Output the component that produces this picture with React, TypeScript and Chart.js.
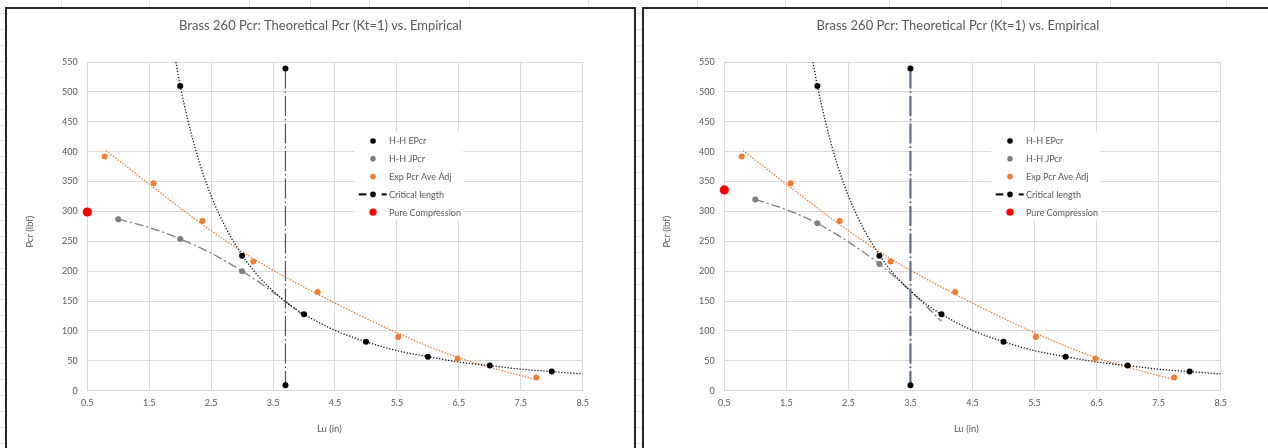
import React, { useEffect, useRef } from "react";
import { Chart, registerables } from "chart.js";

Chart.register(...registerables);

// ---------- data ----------
const TITLE = "Brass 260 Pcr: Theoretical Pcr (Kt=1) vs. Empirical";
const X_TITLE = "Lu (in)";
const Y_TITLE = "Pcr (lbf)";

const X_MIN = 0.5;
const X_MAX = 8.5;
const X_STEP = 1;
const Y_MIN = 0;
const Y_MAX = 550;
const Y_STEP = 50;

const EPCR_LU = [2, 3, 4, 5, 6, 7, 8];
const EPCR_P = [510, 226, 128, 82, 57, 42, 32];
const EPCR_TREND_LU = [1.93, 2, 2.25, 2.5, 2.75, 3, 3.25, 3.5, 3.75, 4, 4.5, 5, 5.5, 6, 6.5, 7, 7.5, 8, 8.5];
const EPCR_TREND_P = [550, 510, 403, 326, 270, 227, 193, 167, 145, 128, 101, 82, 67, 57, 48, 42, 36, 32, 28];

const JPCR_LU = [1, 2, 3];
const JPCR_P_LEFT = [287, 254, 200];
const JPCR_P_RIGHT = [320, 280, 212];
const JPCR_TREND_LU = [1, 1.5, 2, 2.5, 3, 3.5, 4];
const JPCR_TREND_LEFT = [287, 273, 254, 230, 200, 165, 125];
const JPCR_TREND_RIGHT = [320, 303, 280, 249, 212, 167, 116];

const EXP_LU = [0.78, 1.57, 2.36, 3.18, 4.22, 5.52, 6.48, 7.75];
const EXP_P = [392, 347, 284, 216, 165, 90, 54, 22];
const EXP_TREND_LU = [0.8, 1.57, 2.36, 3.18, 4.21, 5.52, 6.5, 7.72];
const EXP_TREND_P = [402, 340, 278, 221, 162, 96, 55, 19];

const CRIT_LU_LEFT = [3.7, 3.7];
const CRIT_LU_RIGHT = [3.5, 3.5];
const CRIT_P = [539, 9];

const PURE_LU = [0.5];
const PURE_P_LEFT = [299];
const PURE_P_RIGHT = [336];

const LABELS = ["H-H EPcr", "H-H JPcr", "Exp Pcr Ave Adj", "Critical length", "Pure Compression"];

// ---------- styles ----------
const FONT = "Lato, 'Open Sans', sans-serif";
const TEXT = "#595959";
const GRID = "#d9d9d9";
const BLACK = "#000000";
const GRAY = "#7f7f7f";
const ORANGE = "#ED7D31";
const RED = "#FF0000";

const pts = (xs: number[], ys: number[]) => xs.map((x, i) => ({ x, y: ys[i] }));

const textPlugin = {
  id: "excelText",
  afterDraw(chart: any) {
    const { ctx, chartArea, width } = chart;
    ctx.save();
    ctx.fillStyle = TEXT;
    ctx.textAlign = "center";
    ctx.textBaseline = "alphabetic";
    ctx.font = `13px ${FONT}`;
    ctx.fillText(TITLE, width / 2, 21);
    ctx.font = `9.5px ${FONT}`;
    ctx.textBaseline = "middle";
    ctx.fillText(X_TITLE, chartArea.left + 242, 419.7);
    ctx.translate(23, 222.7);
    ctx.rotate(-Math.PI / 2);
    ctx.fillText(Y_TITLE, 0, 0);
    ctx.restore();
  },
};

const legendPlugin = {
  id: "excelLegend",
  afterDatasetsDraw(chart: any) {
    const { ctx, chartArea } = chart;
    const items = [
      { label: LABELS[0], color: BLACK, r: 2.8, dash: false },
      { label: LABELS[1], color: GRAY, r: 2.8, dash: false },
      { label: LABELS[2], color: ORANGE, r: 2.8, dash: false },
      { label: LABELS[3], color: BLACK, r: 2.8, dash: true },
      { label: LABELS[4], color: RED, r: 3.6, dash: false },
    ];
    const bx = chartArea.left + 267;
    const by = chartArea.top + 70;
    ctx.save();
    ctx.fillStyle = "#ffffff";
    ctx.fillRect(bx, by, 109, 88);
    ctx.font = `9px ${FONT}`;
    ctx.textBaseline = "middle";
    ctx.textAlign = "left";
    items.forEach((it, i) => {
      const y = chartArea.top + 79 + i * 17.8;
      const mx = chartArea.left + 285.7;
      if (it.dash) {
        ctx.fillStyle = BLACK;
        ctx.fillRect(mx - 14.3, y - 1, 7.6, 2);
        ctx.fillRect(mx + 8.7, y - 1, 5, 2);
      }
      ctx.beginPath();
      ctx.arc(mx, y, it.r, 0, Math.PI * 2);
      ctx.fillStyle = it.color;
      ctx.fill();
      ctx.fillStyle = TEXT;
      ctx.fillText(it.label, chartArea.left + 301.7, y + 0.5);
    });
    ctx.restore();
  },
};

type Variant = {
  jp: number[];
  jpTrend: number[];
  critLu: number[];
  pure: number[];
  critColor: string;
  critWidth: number;
};

function makeConfig(v: Variant): any {
  const pointBase = { showLine: false, clip: false, order: 0, pointBorderWidth: 0 };
  const lineBase = {
    showLine: true,
    pointRadius: 0,
    pointHoverRadius: 0,
    cubicInterpolationMode: "monotone",
    order: 1,
    fill: false,
  };
  return {
    type: "scatter",
    data: {
      datasets: [
        { ...pointBase, label: LABELS[4], data: pts(PURE_LU, v.pure), pointRadius: 4.6, pointBackgroundColor: RED, backgroundColor: RED },
        { ...pointBase, label: LABELS[0], data: pts(EPCR_LU, EPCR_P), pointRadius: 3, pointBackgroundColor: BLACK, backgroundColor: BLACK },
        { ...pointBase, label: LABELS[1], data: pts(JPCR_LU, v.jp), pointRadius: 3, pointBackgroundColor: GRAY, backgroundColor: GRAY },
        { ...pointBase, label: LABELS[2], data: pts(EXP_LU, EXP_P), pointRadius: 3, pointBackgroundColor: ORANGE, backgroundColor: ORANGE },
        {
          label: LABELS[3],
          data: pts(v.critLu, CRIT_P),
          showLine: true,
          clip: false,
          order: 0,
          borderColor: v.critColor,
          borderWidth: v.critWidth,
          borderDash: [20, 3, 1.5, 3],
          pointRadius: 3,
          pointBorderWidth: 0,
          pointBackgroundColor: BLACK,
          backgroundColor: BLACK,
        },
        { ...lineBase, label: "EPcr trend", data: pts(EPCR_TREND_LU, EPCR_TREND_P), borderColor: "#1a1a1a", borderWidth: 1.3, borderDash: [1.3, 1.7] },
        { ...lineBase, label: "JPcr trend", data: pts(JPCR_TREND_LU, v.jpTrend), borderColor: GRAY, borderWidth: 1.3, borderDash: [9, 3, 2, 3] },
        { ...lineBase, label: "Exp trend", data: pts(EXP_TREND_LU, EXP_TREND_P), borderColor: ORANGE, borderWidth: 1.25, borderDash: [1.5, 1.5] },
      ],
    },
    options: {
      responsive: false,
      animation: false,
      devicePixelRatio: 1,
      layout: { padding: { left: 0, right: 51.3, top: 53, bottom: 0 } },
      plugins: {
        legend: { display: false },
        title: { display: false },
        tooltip: { enabled: false },
      },
      events: [],
      scales: {
        x: {
          type: "linear",
          min: X_MIN,
          max: X_MAX,
          ticks: {
            stepSize: X_STEP,
            color: TEXT,
            font: { family: FONT, size: 9 },
            padding: 7,
            maxRotation: 0,
            callback: (val: number) => Number(val).toFixed(1),
          },
          grid: { color: GRID, lineWidth: 1, drawTicks: false },
          border: { display: true, color: GRID, width: 1 },
          afterFit: (s: any) => {
            s.height = 57.3;
          },
        },
        y: {
          type: "linear",
          min: Y_MIN,
          max: Y_MAX,
          ticks: {
            stepSize: Y_STEP,
            color: TEXT,
            font: { family: FONT, size: 9 },
            padding: 9.6,
          },
          grid: { color: GRID, lineWidth: 1, drawTicks: false },
          border: { display: true, color: GRID, width: 1 },
          afterFit: (s: any) => {
            s.width = 80.3;
          },
        },
      },
    },
    plugins: [legendPlugin, textPlugin],
  };
}

function ChartPanel({ variant, width }: { variant: Variant; width: number }) {
  const ref = useRef<HTMLCanvasElement | null>(null);
  useEffect(() => {
    if (!ref.current) return;
    const chart = new Chart(ref.current, makeConfig(variant));
    return () => chart.destroy();
  }, [variant]);
  return <canvas ref={ref} width={width} height={439} style={{ display: "block", width, height: 439 }} />;
}

const LEFT_VARIANT: Variant = {
  jp: JPCR_P_LEFT,
  jpTrend: JPCR_TREND_LEFT,
  critLu: CRIT_LU_LEFT,
  pure: PURE_P_LEFT,
  critColor: "#44546A",
  critWidth: 1.2,
};

const RIGHT_VARIANT: Variant = {
  jp: JPCR_P_RIGHT,
  jpTrend: JPCR_TREND_RIGHT,
  critLu: CRIT_LU_RIGHT,
  pure: PURE_P_RIGHT,
  critColor: "#5f6f86",
  critWidth: 2.2,
};

const TOP_CELL_LINES = [61, 149, 249, 310, 369, 469, 588, 697, 785, 889, 1001, 1110, 1226];

export default function App() {
  return (
    <div
      style={{
        position: "relative",
        width: 1268,
        height: 448,
        overflow: "hidden",
        background:
          "repeating-linear-gradient(180deg, #ffffff 0px, #ffffff 13.3px, #e2e2e2 13.3px, #e2e2e2 14.3px, #ffffff 14.3px, #ffffff 15.9px)",
      }}
    >
      <style>{`html,body{margin:0;padding:0;overflow:hidden;background:#fff}`}</style>
      <div style={{ position: "absolute", left: 0, top: 0, width: 1268, height: 7, background: "#fff" }} />
      {TOP_CELL_LINES.map((x) => (
        <div key={x} style={{ position: "absolute", left: x, top: 0, width: 1, height: 7, background: "#e2e2e2" }} />
      ))}
      <div
        style={{
          position: "absolute",
          left: 5,
          top: 7,
          width: 627,
          height: 450,
          border: "2px solid #262626",
          background: "#fff",
        }}
      >
        <ChartPanel variant={LEFT_VARIANT} width={627} />
      </div>
      <div
        style={{
          position: "absolute",
          left: 642,
          top: 7,
          width: 628,
          height: 450,
          border: "2px solid #262626",
          background: "#fff",
        }}
      >
        <ChartPanel variant={RIGHT_VARIANT} width={628} />
      </div>
    </div>
  );
}
